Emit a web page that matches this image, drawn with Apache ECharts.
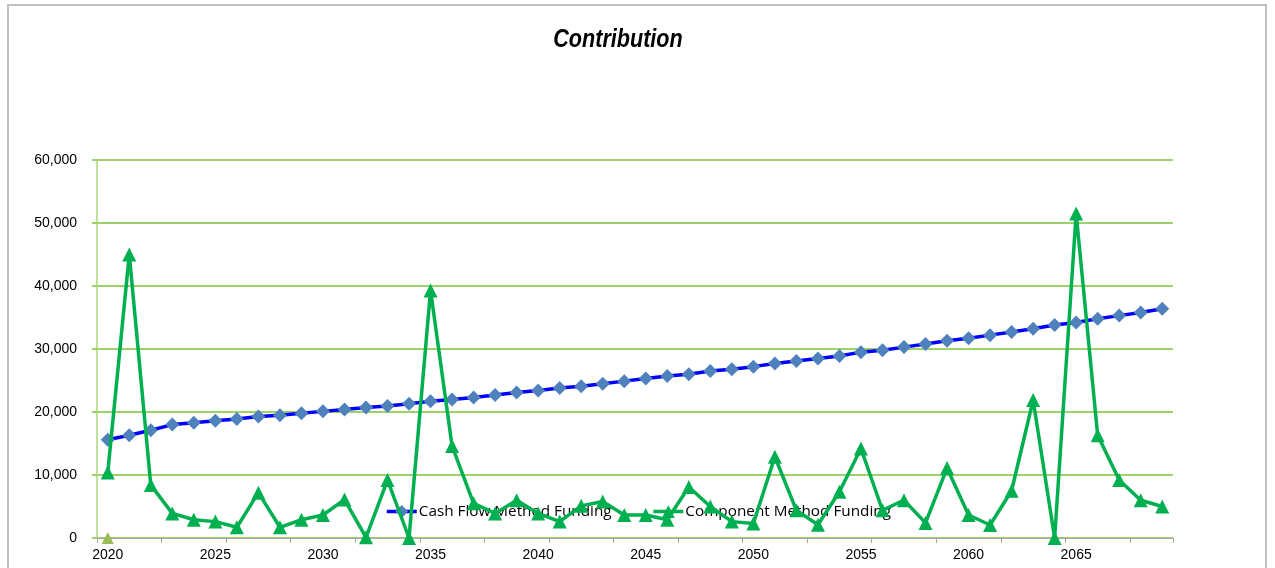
<!DOCTYPE html>
<html>
<head>
<meta charset="utf-8">
<title>Contribution</title>
<script src="https://cdn.jsdelivr.net/npm/echarts@6/dist/echarts.min.js"></script>
<style>
  html, body { margin: 0; padding: 0; background: #ffffff; }
  #chart { width: 1275px; height: 568px; }
</style>
</head>
<body>
<div id="chart"></div>
<script>
// Years on the category axis
const years = [];
for (let y = 2020; y <= 2069; y++) years.push(String(y));

// Annual contribution under the cash flow method
const cashFlowFunding = [
  15600, 16300, 17100, 18000, 18300, 18600, 18900, 19300, 19500, 19800,
  20100, 20400, 20700, 20950, 21300, 21700, 22000, 22300, 22700, 23100,
  23400, 23800, 24100, 24500, 24900, 25300, 25700, 26000, 26500, 26800,
  27200, 27700, 28100, 28500, 28900, 29500, 29800, 30300, 30800, 31300,
  31700, 32200, 32700, 33200, 33800, 34200, 34800, 35300, 35800, 36400
];

// Annual contribution under the component method
const componentFunding = [
  10400, 45000, 8400, 3900, 2900, 2600, 1700, 7200, 1700, 2900,
  3650, 6100, 100, 9200, 0, 39300, 14600, 5500, 3900, 6000,
  3900, 2600, 5100, 5800, 3650, 3650, 2900, 8100, 5000, 2600,
  2300, 12900, 4400, 2100, 7350, 14200, 4400, 6000, 2400, 11100,
  3650, 2060, 7500, 21900, 0, 51500, 16300, 9200, 6000, 5000
];

// Single starting-year marker at zero
const startMarker = [0].concat(new Array(49).fill(null));

const chart = echarts.init(document.getElementById('chart'), null, { renderer: 'canvas' });

chart.setOption({
  animation: false,
  backgroundColor: '#ffffff',
  graphic: [
    {
      type: 'rect',
      shape: { x: 8, y: 5, width: 1258, height: 580 },
      style: { fill: 'none', stroke: '#BFBFBF', lineWidth: 2 },
      silent: true
    },
    {
      // condensed bold-italic chart title
      type: 'text',
      x: 618,
      y: 40,
      scaleX: 0.83,
      silent: true,
      style: {
        text: 'Contribution',
        fontFamily: "'Liberation Sans', Arial, sans-serif",
        fontSize: 26,
        fontWeight: 'bold',
        fontStyle: 'italic',
        fill: '#000000',
        textAlign: 'center',
        textVerticalAlign: 'middle',
        verticalAlign: 'middle'
      }
    }
  ],
  grid: { left: 97, right: 102, top: 160, bottom: 30, containLabel: false },
  legend: {
    left: 380,
    top: 499,
    itemGap: 40,
    itemWidth: 30,
    itemHeight: 16,
    data: [
      { name: 'Cash Flow Method Funding', lineStyle: { width: 3.5 } },
      { name: 'Component Method Funding', lineStyle: { width: 3.5 } }
    ],
    textStyle: {
      fontFamily: "'Open Sans', 'Noto Sans', sans-serif",
      fontSize: 15.3,
      color: '#000000',
      padding: [0, 0, 0, -3]
    }
  },
  xAxis: {
    type: 'category',
    data: years,
    boundaryGap: true,
    axisLine: { show: true, lineStyle: { color: '#A6A6A6', width: 1 } },
    axisTick: { show: true, interval: 2, length: 5, lineStyle: { color: '#A6A6A6' } },
    axisLabel: {
      interval: 4,
      margin: 10,
      fontFamily: "'Liberation Sans', Arial, sans-serif",
      fontSize: 14,
      color: '#000000'
    },
    splitLine: { show: false }
  },
  yAxis: {
    type: 'value',
    min: 0,
    max: 60000,
    interval: 10000,
    axisLine: { show: true, lineStyle: { color: '#A9D97A', width: 1.5 } },
    axisTick: { show: true, length: 5, lineStyle: { color: '#9BD36A', width: 2 } },
    axisLabel: {
      margin: 20,
      fontFamily: "'Liberation Sans', Arial, sans-serif",
      fontSize: 14,
      color: '#000000',
      formatter: v => v.toLocaleString('en-US')
    },
    splitLine: { show: true, lineStyle: { color: '#9BD36A', width: 2 } }
  },
  series: [
    {
      name: 'Cash Flow Method Funding',
      type: 'line',
      data: cashFlowFunding,
      symbol: 'diamond',
      symbolSize: 14,
      lineStyle: { color: '#0000FF', width: 3.5 },
      itemStyle: { color: '#4F81BD' },
      z: 3
    },
    {
      name: 'Component Method Funding',
      type: 'line',
      data: componentFunding,
      symbol: 'triangle',
      symbolSize: 14,
      lineStyle: { color: '#00B050', width: 3.5 },
      itemStyle: { color: '#00B050' },
      z: 4
    },
    {
      name: 'Start',
      type: 'line',
      data: startMarker,
      symbol: 'triangle',
      symbolSize: 12,
      showSymbol: true,
      lineStyle: { width: 0 },
      itemStyle: { color: '#9BBB59' },
      z: 2
    }
  ]
});
</script>
</body>
</html>
